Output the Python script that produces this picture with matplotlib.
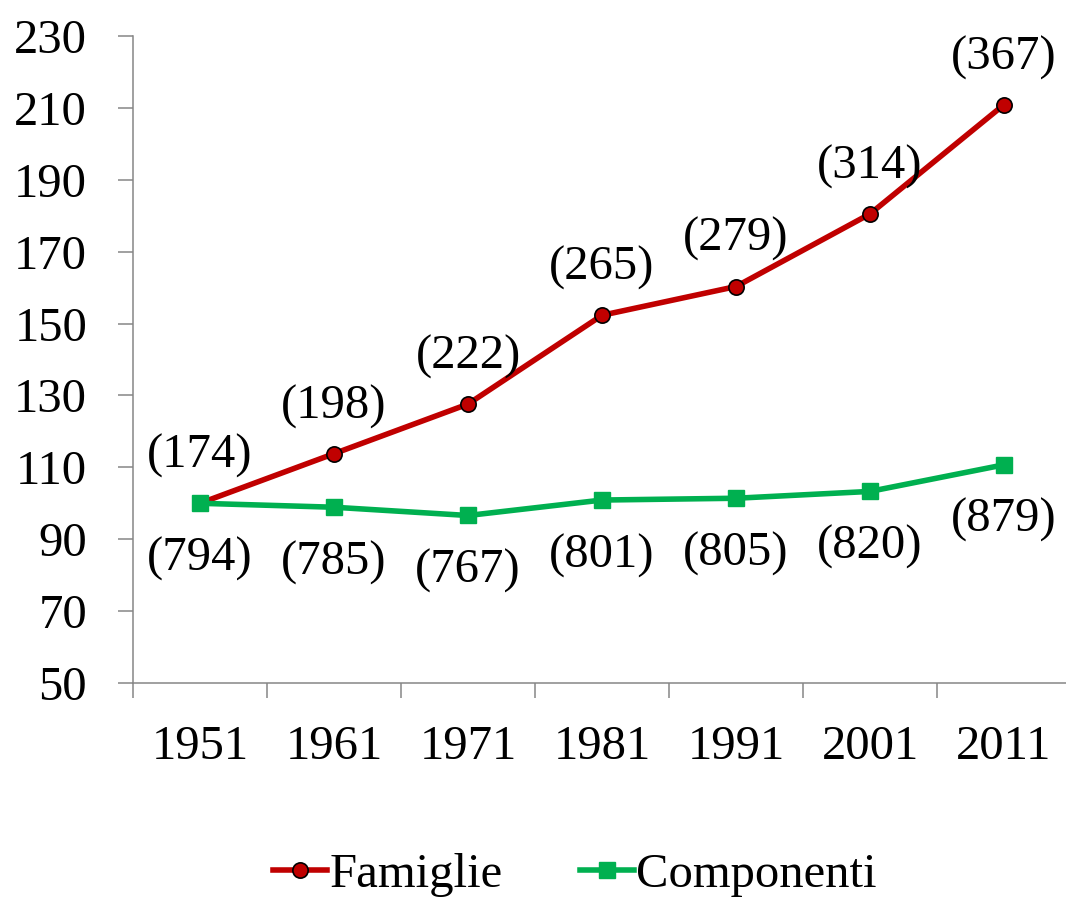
import matplotlib
matplotlib.use("Agg")
import matplotlib.pyplot as plt
import numpy as np

years = ["1951", "1961", "1971", "1981", "1991", "2001", "2011"]
famiglie = [100.0, 113.8, 127.6, 152.3, 160.3, 180.5, 210.9]
componenti = [100.0, 98.9, 96.6, 100.9, 101.4, 103.3, 110.7]
famiglie_labels = ["(174)", "(198)", "(222)", "(265)", "(279)", "(314)", "(367)"]
componenti_labels = ["(794)", "(785)", "(767)", "(801)", "(805)", "(820)", "(879)"]
yticks = list(range(50, 231, 20))

plt.rcParams['font.family'] = ['Liberation Serif', 'DejaVu Serif']
fs = 35
grey = "#868686"

fig = plt.figure(figsize=(10.66, 9.01), dpi=100)
ax = fig.add_axes([133 / 1066, 218 / 901, 938 / 1066, 647 / 901])

x = np.arange(len(years))
ax.plot(x, famiglie, color="#C00000", lw=4.0, marker="o", ms=11,
        mfc="#C00000", mec="black", mew=1.2, label="Famiglie", zorder=3)
ax.plot(x, componenti, color="#00B050", lw=4.0, marker="s", ms=12,
        mfc="#00B050", mec="#00B050", label="Componenti", zorder=3)

for xi, v, t in zip(x, famiglie, famiglie_labels):
    ax.annotate(t, (xi, v), xytext=(0, 34), textcoords="offset points",
                ha="center", va="center", fontsize=fs)
for xi, v, t in zip(x, componenti, componenti_labels):
    ax.annotate(t, (xi, v), xytext=(0, -40), textcoords="offset points",
                ha="center", va="center", fontsize=fs)

ax.set_xlim(-0.5, 6.5)
ax.set_ylim(50, 230)
ax.set_yticks(yticks)
ax.set_xticks(x)
ax.set_xticklabels(years)
ax.set_xticks(np.arange(-0.5, 7, 1), minor=True)
ax.tick_params(axis="x", which="major", length=0, pad=30, labelsize=fs)
ax.tick_params(axis="x", which="minor", length=11, width=1.1, color=grey)
ax.tick_params(axis="y", length=11, width=1.1, color=grey, pad=22, labelsize=fs)

for s in ["top", "right"]:
    ax.spines[s].set_visible(False)
for s in ["left", "bottom"]:
    ax.spines[s].set_color(grey)
    ax.spines[s].set_linewidth(1.1)

fig.legend(loc="center", bbox_to_anchor=(575 / 1066, 1 - 875 / 901),
           ncol=2, frameon=False, fontsize=fs, handlelength=1.1,
           handletextpad=0.05, columnspacing=1.6)

fig.savefig("out.png", dpi=100)
